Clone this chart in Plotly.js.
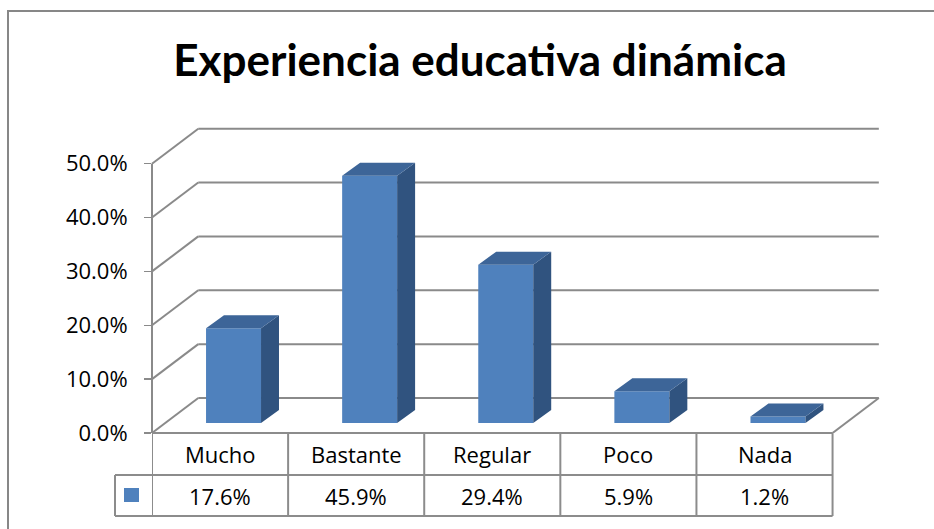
<!DOCTYPE html>
<html>
<head>
<meta charset="utf-8">
<script src="https://cdn.plot.ly/plotly-3.0.1.min.js"></script>
<style>
html,body{margin:0;padding:0;background:#fff;overflow:hidden;width:934px;height:529px;}
#chart{position:absolute;left:0;top:0;width:934px;height:529px;}
#frame{position:absolute;left:7px;top:10px;width:1000px;height:600px;border-left:2.5px solid #878787;border-top:2.5px solid #878787;pointer-events:none;}
</style>
</head>
<body>
<div id="chart"></div>
<div id="frame"></div>
<script>
// ---- data ----
const categories = ['Mucho', 'Bastante', 'Regular', 'Poco', 'Nada'];
const values = [17.6, 45.9, 29.4, 5.9, 1.2];
const valueLabels = ['17.6%', '45.9%', '29.4%', '5.9%', '1.2%'];
const yTicks = [0, 10, 20, 30, 40, 50];
const titleText = 'Experiencia educativa dinámica';

// ---- geometry (style) ----
const W = 934, H = 529;
const M = {l: 152, r: 47, t: 126, b: 96};
const plotW = W - M.l - M.r, plotH = H - M.t - M.b;
const xRange = [-0.5, 4.9], yRange = [0, 57];
const backDX = 0.34, backDY = 6.5;      // depth of the 3D box
const barOff = -0.103, barW = 0.404;    // front face of bars
const barBase = 1.86;                   // bars sit slightly inside the box
const barDX = 0.132, barDY = 2.41;      // depth of each bar
const gridColor = '#8a8a8a';
const front = '#4F81BD', topC = '#3D6598', sideC = '#30537F';
const fontMain = 'Open Sans, Lato, sans-serif';

const px = v => (v - M.l) / plotW;          // pixel x -> paper
const py = v => (H - M.b - v) / plotH;      // pixel y -> paper

// ---- traces ----
const xs = categories.map((c, i) => i);
const barTrace = {
  type: 'bar', x: xs, y: values, base: values.map(() => barBase),
  width: barW, offset: barOff,
  marker: {color: front, line: {width: 0}},
  hoverinfo: 'skip', showlegend: false
};
const sideX = [], sideY = [], topX = [], topY = [];
values.forEach((v, i) => {
  const xl = i + barOff, xr = xl + barW, b = barBase, t = barBase + v;
  sideX.push(xr, xr + barDX, xr + barDX, xr, xr, null);
  sideY.push(b, b + barDY, t + barDY, t, b, null);
  topX.push(xl, xr, xr + barDX, xl + barDX, xl, null);
  topY.push(t, t, t + barDY, t + barDY, t, null);
});
const sideTrace = {type: 'scatter', mode: 'lines', x: sideX, y: sideY, fill: 'toself',
  fillcolor: sideC, line: {width: 0, color: sideC}, hoverinfo: 'skip', showlegend: false};
const topTrace = {type: 'scatter', mode: 'lines', x: topX, y: topY, fill: 'toself',
  fillcolor: topC, line: {width: 0, color: topC}, hoverinfo: 'skip', showlegend: false};

// ---- shapes: 3D box gridlines ----
const shapes = [];
const gl = {color: gridColor, width: 2};
yTicks.forEach(t => {
  shapes.push({type: 'line', xref: 'x', yref: 'y', layer: 'below',
    x0: xRange[0] + backDX, x1: 4.5 + backDX, y0: t + backDY, y1: t + backDY, line: gl});
  shapes.push({type: 'line', xref: 'paper', yref: 'y', layer: 'below',
    x0: 0, x1: backDX / (xRange[1] - xRange[0]), y0: t, y1: t + backDY, line: gl});
});
shapes.push({type: 'line', xref: 'paper', yref: 'y', layer: 'below', x0: 0, x1: 0,
  y0: 0, y1: yTicks[yTicks.length - 1], line: gl});
shapes.push({type: 'line', xref: 'x', yref: 'y', layer: 'below', x0: 4.5, x1: 4.5 + backDX,
  y0: 0, y1: backDY, line: gl});

// ---- data table ----
const tl = {color: '#8c8c8c', width: 2};
const rowTop = 433, rowMid = 475, rowBot = 516, keyLeft = 115;
shapes.push({type: 'line', xref: 'x', yref: 'paper', x0: -0.5, x1: 4.5, y0: py(rowTop), y1: py(rowTop), line: tl});
shapes.push({type: 'line', xref: 'paper', yref: 'paper', x0: px(keyLeft), x1: 0, y0: py(rowMid), y1: py(rowMid), line: tl});
shapes.push({type: 'line', xref: 'paper', yref: 'paper', x0: px(keyLeft), x1: 0, y0: py(rowBot), y1: py(rowBot), line: tl});
shapes.push({type: 'line', xref: 'x', yref: 'paper', x0: -0.5, x1: 4.5, y0: py(rowMid), y1: py(rowMid), line: tl});
shapes.push({type: 'line', xref: 'x', yref: 'paper', x0: -0.5, x1: 4.5, y0: py(rowBot), y1: py(rowBot), line: tl});
shapes.push({type: 'line', xref: 'paper', yref: 'paper', x0: px(keyLeft), x1: px(keyLeft), y0: py(rowMid), y1: py(rowBot), line: tl});
for (let i = 0; i <= categories.length; i++) {
  shapes.push({type: 'line', xref: 'x', yref: 'paper', x0: i - 0.5, x1: i - 0.5,
    y0: py(rowTop), y1: py(rowBot), line: tl});
}
// legend key
shapes.push({type: 'rect', xref: 'paper', yref: 'paper', x0: px(124), x1: px(139),
  y0: py(488), y1: py(502), fillcolor: front, line: {width: 0}});

const annotations = [];
categories.forEach((c, i) => {
  annotations.push({xref: 'x', yref: 'paper', x: i, y: py((rowTop + rowMid) / 2), text: c,
    showarrow: false, xanchor: 'center', yanchor: 'middle', font: {family: fontMain, size: 22, color: '#000'}});
  annotations.push({xref: 'x', yref: 'paper', x: i, y: py((rowMid + rowBot) / 2), text: valueLabels[i],
    showarrow: false, xanchor: 'center', yanchor: 'middle', font: {family: fontMain, size: 22, color: '#000'}});
});

const layout = {
  width: W, height: H, autosize: false,
  margin: M, paper_bgcolor: '#fff', plot_bgcolor: 'rgba(0,0,0,0)',
  showlegend: false, barmode: 'overlay',
  title: {text: '<b>' + titleText + '</b>', xref: 'paper', x: px(480), xanchor: 'center',
    yref: 'container', y: 1 - 61 / H, yanchor: 'middle',
    font: {family: 'Lato, Open Sans, sans-serif', size: 44, color: '#000'}},
  xaxis: {range: xRange, visible: false, fixedrange: true},
  yaxis: {range: yRange, tickvals: yTicks, ticktext: yTicks.map(t => t.toFixed(1) + '%'),
    showgrid: false, zeroline: false, showline: false, ticks: 'outside', ticklen: 7,
    tickcolor: gridColor, tickwidth: 1.5, ticklabelstandoff: 12,
    tickfont: {family: fontMain, size: 22, color: '#000'}, fixedrange: true},
  shapes: shapes, annotations: annotations
};

Plotly.newPlot('chart', [barTrace, sideTrace, topTrace], layout, {staticPlot: true, displayModeBar: false});
</script>
</body>
</html>
